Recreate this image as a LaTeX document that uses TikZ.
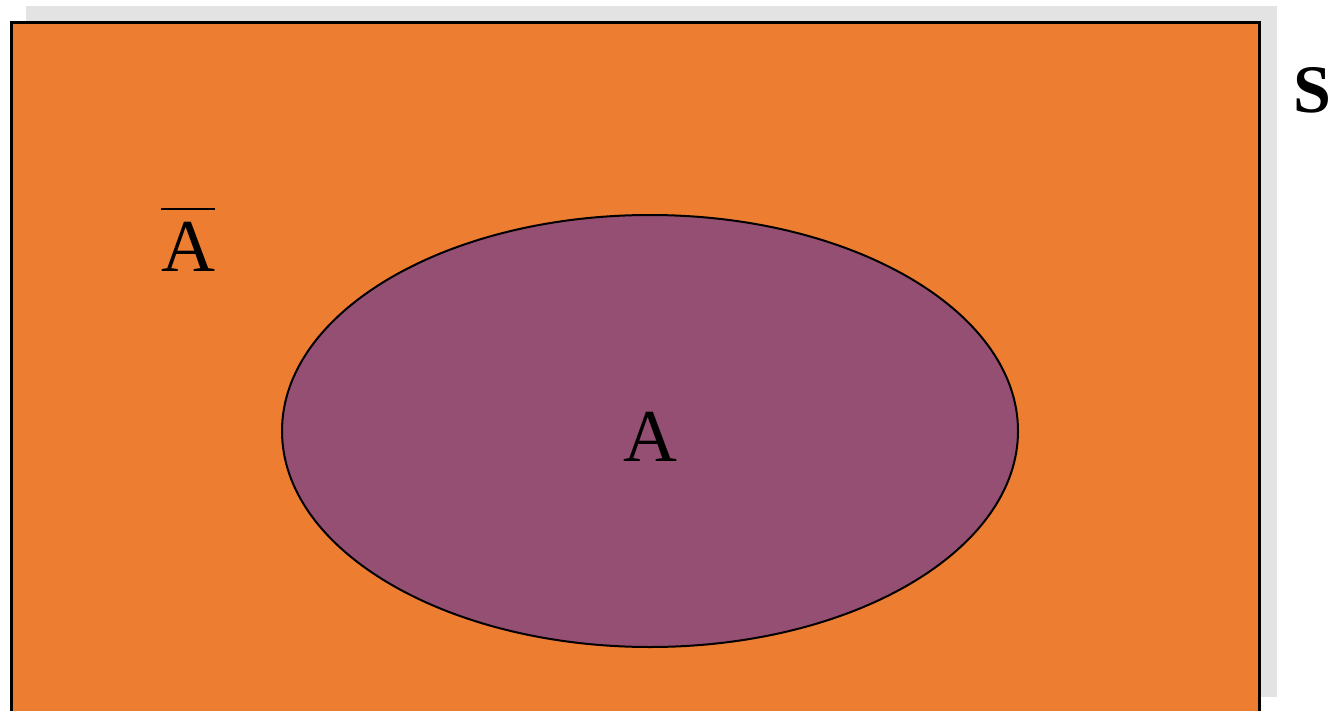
\documentclass[tikz,border=0pt]{standalone}
\usepackage{fontspec}
\setmainfont{Liberation Serif}
\usetikzlibrary{shapes.geometric}
\definecolor{sorange}{HTML}{ED7D31}
\definecolor{spurple}{HTML}{954F72}
\definecolor{sgray}{HTML}{E3E3E3}
\begin{document}
\begin{tikzpicture}[x=0.75pt,y=-0.75pt,
  lbl/.style={inner sep=0pt,font=\fontsize{56}{60}\selectfont},
  setA/.style={ellipse,draw=black,line width=1.5pt,fill=spurple,inner sep=0pt,
     minimum width=736*0.75pt,minimum height=432*0.75pt}]
\useasboundingbox (0,0) rectangle (1334,710);
\clip (0,0) rectangle (1334,710);
\fill[sgray] (26,6) rectangle (1277,697);
\draw[fill=sorange,line width=2.25pt] (11,23) rectangle (1259,730);
\node[setA] (ell) at (650,431) {};
\node[lbl] (a) at (650,437) {A};
\node[lbl,anchor=south] (abar) at (188,272) {\vbox{\hrule height 2pt\kern 9pt\hbox{A}}};
\node[inner sep=0pt,font=\fontsize{51}{55}\selectfont\bfseries] (s) at (1312,90) {S};
\end{tikzpicture}
\end{document}
